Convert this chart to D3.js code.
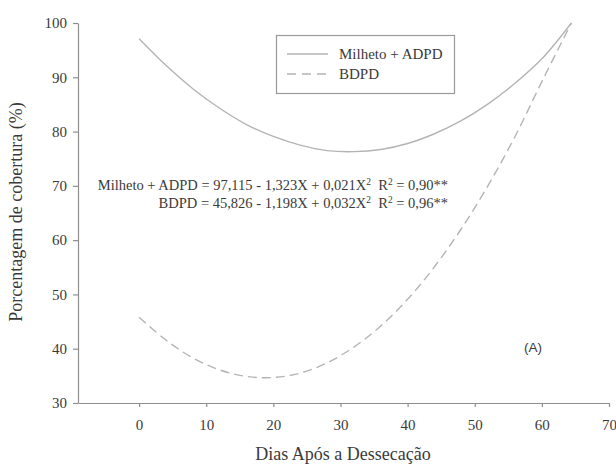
<!DOCTYPE html>
<html>
<head>
<meta charset="utf-8">
<script src="https://cdn.jsdelivr.net/npm/d3@7"></script>
<style>
  html, body { margin: 0; padding: 0; background: #fff; }
  svg { display: block; }
  text { font-family: "Liberation Serif", "Times New Roman", serif; fill: #3a3a3a; }
</style>
</head>
<body>
<svg id="chart" width="616" height="465"></svg>
<script>
// Days after desiccation and fitted ground cover (%) for each system
const days        = [0, 4, 8, 12, 16, 20, 24, 28, 32, 36, 40, 44, 48, 52, 56, 60, 64.4];
const milhetoADPD = [97.1, 92.2, 87.9, 84.3, 81.3, 79.1, 77.5, 76.5, 76.3, 76.7, 77.8, 79.6, 82.0, 85.1, 88.9, 93.4, 100];
const bdpd        = [45.8, 41.6, 38.3, 36.1, 34.9, 34.7, 35.5, 37.4, 40.3, 44.2, 49.1, 55.1, 62.1, 70.1, 79.1, 89.2, 100];

const seriesNames = ["Milheto + ADPD", "BDPD"];
const xTicks = [0, 10, 20, 30, 40, 50, 60, 70];
const yTicks = [30, 40, 50, 60, 70, 80, 90, 100];

const svg = d3.select("#chart");
const axisColor = "#8f8f8f";
const curveColor = "#b4b4b4";
const serif = '"Liberation Serif", "Times New Roman", serif';

const x = d3.scaleLinear().domain([-9.1, 70]).range([78, 609]);
const y = d3.scaleLinear().domain([30, 100]).range([403, 23]);

// Axes
const xAxis = svg.append("g")
  .attr("transform", `translate(0,${y(30)})`)
  .call(d3.axisBottom(x).tickValues(xTicks).tickSize(4).tickPadding(12).tickSizeOuter(0));
const yAxis = svg.append("g")
  .attr("transform", `translate(${x(-9.1)},0)`)
  .call(d3.axisLeft(y).tickValues(yTicks).tickSize(5).tickPadding(6).tickSizeOuter(0));

[xAxis, yAxis].forEach(g => {
  g.select(".domain").attr("stroke", axisColor).attr("stroke-width", 1.2);
  g.selectAll(".tick line").attr("stroke", axisColor).attr("stroke-width", 1.2);
  g.selectAll(".tick text")
    .attr("fill", "#3a3a3a")
    .style("font-family", serif)
    .style("font-size", "15px");
});

// Curves
const line = d3.line()
  .x((d, i) => x(days[i]))
  .y(d => y(d))
  .curve(d3.curveCatmullRom.alpha(0.5));

svg.append("path")
  .datum(milhetoADPD)
  .attr("d", line)
  .attr("fill", "none")
  .attr("stroke", curveColor)
  .attr("stroke-width", 1.4);

svg.append("path")
  .datum(bdpd)
  .attr("d", line)
  .attr("fill", "none")
  .attr("stroke", curveColor)
  .attr("stroke-width", 1.4)
  .attr("stroke-dasharray", "9,5");

// Legend
const legend = svg.append("g");
legend.append("rect")
  .attr("x", 276.5).attr("y", 35.5).attr("width", 178).attr("height", 58)
  .attr("fill", "#fff").attr("stroke", "#9a9a9a").attr("stroke-width", 1.2);
seriesNames.forEach((name, i) => {
  const ly = 54 + i * 20;
  legend.append("line")
    .attr("x1", 287).attr("x2", 328).attr("y1", ly).attr("y2", ly)
    .attr("stroke", curveColor).attr("stroke-width", 1.4)
    .attr("stroke-dasharray", i === 1 ? "9,6" : null);
  legend.append("text")
    .attr("x", 339).attr("y", ly + 5)
    .style("font-size", "15px")
    .text(name);
});

// Regression equations
const equations = [
  { parts: ["Milheto + ADPD = 97,115 - 1,323X + 0,021X", "2", "  R", "2", " = 0,90**"], y: 190 },
  { parts: ["BDPD = 45,826 - 1,198X + 0,032X", "2", "  R", "2", " = 0,96**"], y: 208 }
];
equations.forEach(eq => {
  const t = svg.append("text")
    .attr("x", 448).attr("y", eq.y)
    .attr("text-anchor", "end")
    .style("font-size", "14.5px")
    .attr("xml:space", "preserve");
  eq.parts.forEach((p, i) => {
    const sup = i % 2 === 1;
    t.append("tspan")
      .attr("dy", sup ? -5 : (i === 0 ? 0 : 5))
      .style("font-size", sup ? "9.5px" : null)
      .text(p);
  });
});

// Panel tag
svg.append("text")
  .attr("x", 533).attr("y", 352)
  .attr("text-anchor", "middle")
  .style("font-family", '"Liberation Sans", Arial, sans-serif')
  .style("font-size", "13.5px")
  .text("(A)");

// Axis titles
svg.append("text")
  .attr("x", 343).attr("y", 460)
  .attr("text-anchor", "middle")
  .style("font-size", "18px")
  .text("Dias Após a Dessecação");

svg.append("text")
  .attr("transform", "translate(22,212) rotate(-90)")
  .attr("text-anchor", "middle")
  .style("font-size", "18px")
  .text("Porcentagem de cobertura (%)");
</script>
</body>
</html>
